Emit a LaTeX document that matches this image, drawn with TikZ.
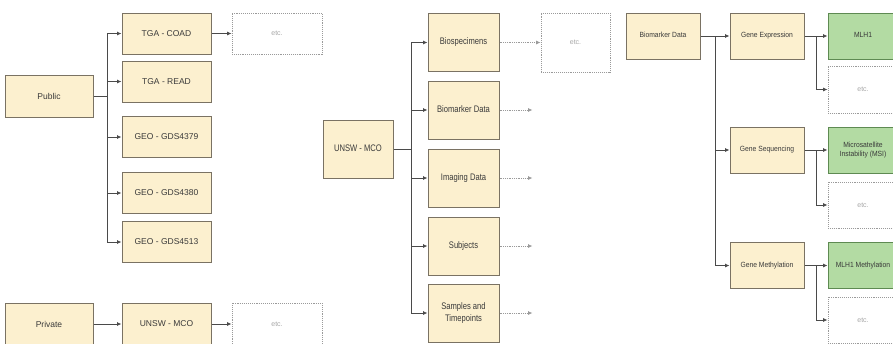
\documentclass[tikz,border=0pt]{standalone}
\usepackage{fontspec}
\setmainfont{Liberation Sans}
\usetikzlibrary{arrows.meta}
\definecolor{yfill}{HTML}{FCF0CF}
\definecolor{ydraw}{HTML}{7A7263}
\definecolor{gfill}{HTML}{B3DBA3}
\definecolor{gdraw}{HTML}{5E8A52}
\definecolor{txt}{HTML}{3A3A3A}
\definecolor{lin}{HTML}{4A4A4A}
\definecolor{dotc}{HTML}{9A9A9A}
\definecolor{etct}{HTML}{A8A8A8}
\tikzset{
  ybox/.style={draw=ydraw, fill=yfill, line width=1pt, inner sep=0pt, align=center, text=txt, font=\fontsize{8.5}{10}\selectfont},
  gbox/.style={draw=gdraw, fill=gfill, line width=1pt, inner sep=0pt, align=center, text=txt, font=\fontsize{7.5}{9}\selectfont},
  etcbox/.style={draw=dotc, densely dotted, line width=0.9pt, inner sep=0pt, text=etct, font=\fontsize{7}{8}\selectfont},
  arr/.style={draw=lin, line width=0.8pt, -{Latex[length=4.5pt,width=4pt]}},
  darr/.style={draw=dotc, densely dotted, line width=0.8pt, -{Latex[length=4.5pt,width=4pt]}},
  lsz/.style={minimum width=89pt, minimum height=41pt},
  msz/.style={minimum width=71pt, minimum height=58pt, font=\fontsize{9.5}{12}\selectfont},
  rsz/.style={minimum width=74pt, minimum height=46pt}
}
\newcommand{\cond}[2][0.8]{\scalebox{#1}[1]{\begin{tabular}{@{}c@{}}#2\end{tabular}}}
\begin{document}
\begin{tikzpicture}[x=1pt,y=-1pt]
\useasboundingbox[fill=white] (0,0) rectangle (893,343);
% ---------- left panel ----------
\node[ybox, minimum width=88pt, minimum height=42pt] (pub) at (49,96) {Public};
\node[ybox, lsz] (coad) at (166.5,33.5) {TGA - COAD};
\node[etcbox, minimum width=90pt, minimum height=41pt] (etc1) at (277,33.5) {etc.};
\node[ybox, lsz] (read) at (166.5,81.5) {TGA - READ};
\node[ybox, lsz] (g79) at (166.5,137) {GEO - GDS4379};
\node[ybox, lsz] (g80) at (166.5,193) {GEO - GDS4380};
\node[ybox, lsz] (g13) at (166.5,242) {GEO - GDS4513};
\node[ybox, minimum width=88pt, minimum height=42pt] (priv) at (49,324) {Private};
\node[ybox, lsz, minimum height=42pt] (unsw1) at (166.5,324) {UNSW - MCO};
\node[etcbox, minimum width=90pt, minimum height=42pt] (etc2) at (277,324) {etc.};
\coordinate (pj) at (107,96);
\draw[draw=lin, line width=0.8pt] (pub.east) -- (pj);
\foreach \n in {coad,read,g79,g80,g13} { \draw[arr] (pj) |- (\n.west); }
\draw[arr] (coad.east) -- (etc1.west);
\draw[arr] (priv.east) -- (unsw1.west);
\draw[arr] (unsw1.east) -- (etc2.west);
% ---------- middle panel ----------
\node[ybox, minimum width=70pt, minimum height=58pt, font=\fontsize{9.5}{12}\selectfont] (unsw2) at (358,149) {\cond{UNSW - MCO}};
\node[ybox, msz] (bios) at (463.5,42.5) {\cond{Biospecimens}};
\node[ybox, msz] (bmd) at (463.5,110) {\cond{Biomarker Data}};
\node[ybox, msz] (img) at (463.5,178) {\cond{Imaging Data}};
\node[ybox, msz] (subj) at (463.5,246) {\cond{Subjects}};
\node[ybox, msz] (samp) at (463.5,313) {\cond{Samples and\\Timepoints}};
\node[etcbox, minimum width=69pt, minimum height=59pt] (etc3) at (575.5,42.5) {etc.};
\coordinate (mj) at (411,149);
\draw[draw=lin, line width=0.8pt] (unsw2.east) -- (mj);
\foreach \n in {bios,bmd,img,subj,samp} { \draw[arr] (mj) |- (\n.west); }
\draw[darr] (bios.east) -- (etc3.west);
\foreach \n/\c in {bmd/e1,img/e2,subj/e3,samp/e4} {
  \coordinate (\c) at ([xshift=33pt]\n.east);
  \draw[darr] (\n.east) -- (\c);
}
% ---------- right panel ----------
\node[ybox, rsz, font=\fontsize{7.5}{9}\selectfont] (bio) at (663,36) {\cond[0.9]{Biomarker Data}};
\node[ybox, rsz, font=\fontsize{7.5}{9}\selectfont] (ge) at (767,36) {\cond[0.9]{Gene Expression}};
\node[ybox, rsz, font=\fontsize{7.5}{9}\selectfont] (gs) at (767,150) {\cond[0.9]{Gene Sequencing}};
\node[ybox, rsz, font=\fontsize{7.5}{9}\selectfont] (gm) at (767,265.5) {\cond[0.9]{Gene Methylation}};
\node[gbox, minimum width=70pt, minimum height=46pt] (mlh) at (863,36) {\cond[0.9]{MLH1}};
\node[gbox, minimum width=70pt, minimum height=46pt] (msi) at (863,150) {\cond[0.9]{Microsatellite\\Instability (MSI)}};
\node[gbox, minimum width=70pt, minimum height=46pt] (mme) at (863,265.5) {\cond[0.9]{MLH1 Methylation}};
\node[etcbox, minimum width=70pt, minimum height=47pt] (etc4) at (863,89.5) {etc.};
\node[etcbox, minimum width=70pt, minimum height=46pt] (etc5) at (863,205) {etc.};
\node[etcbox, minimum width=70pt, minimum height=46pt] (etc6) at (863,320) {etc.};
\coordinate (rj) at (715,36);
\draw[arr] (bio.east) -- (ge.west);
\draw[arr] (rj) |- (gs.west);
\draw[arr] (rj) |- (gm.west);
\foreach \a/\b/\c in {ge/mlh/etc4, gs/msi/etc5, gm/mme/etc6} {
  \draw[arr] (\a.east) -- (\b.west);
  \coordinate (j\a) at ([xshift=12pt]\a.east);
  \draw[arr] (j\a) |- (\c.west);
}
\end{tikzpicture}
\end{document}
